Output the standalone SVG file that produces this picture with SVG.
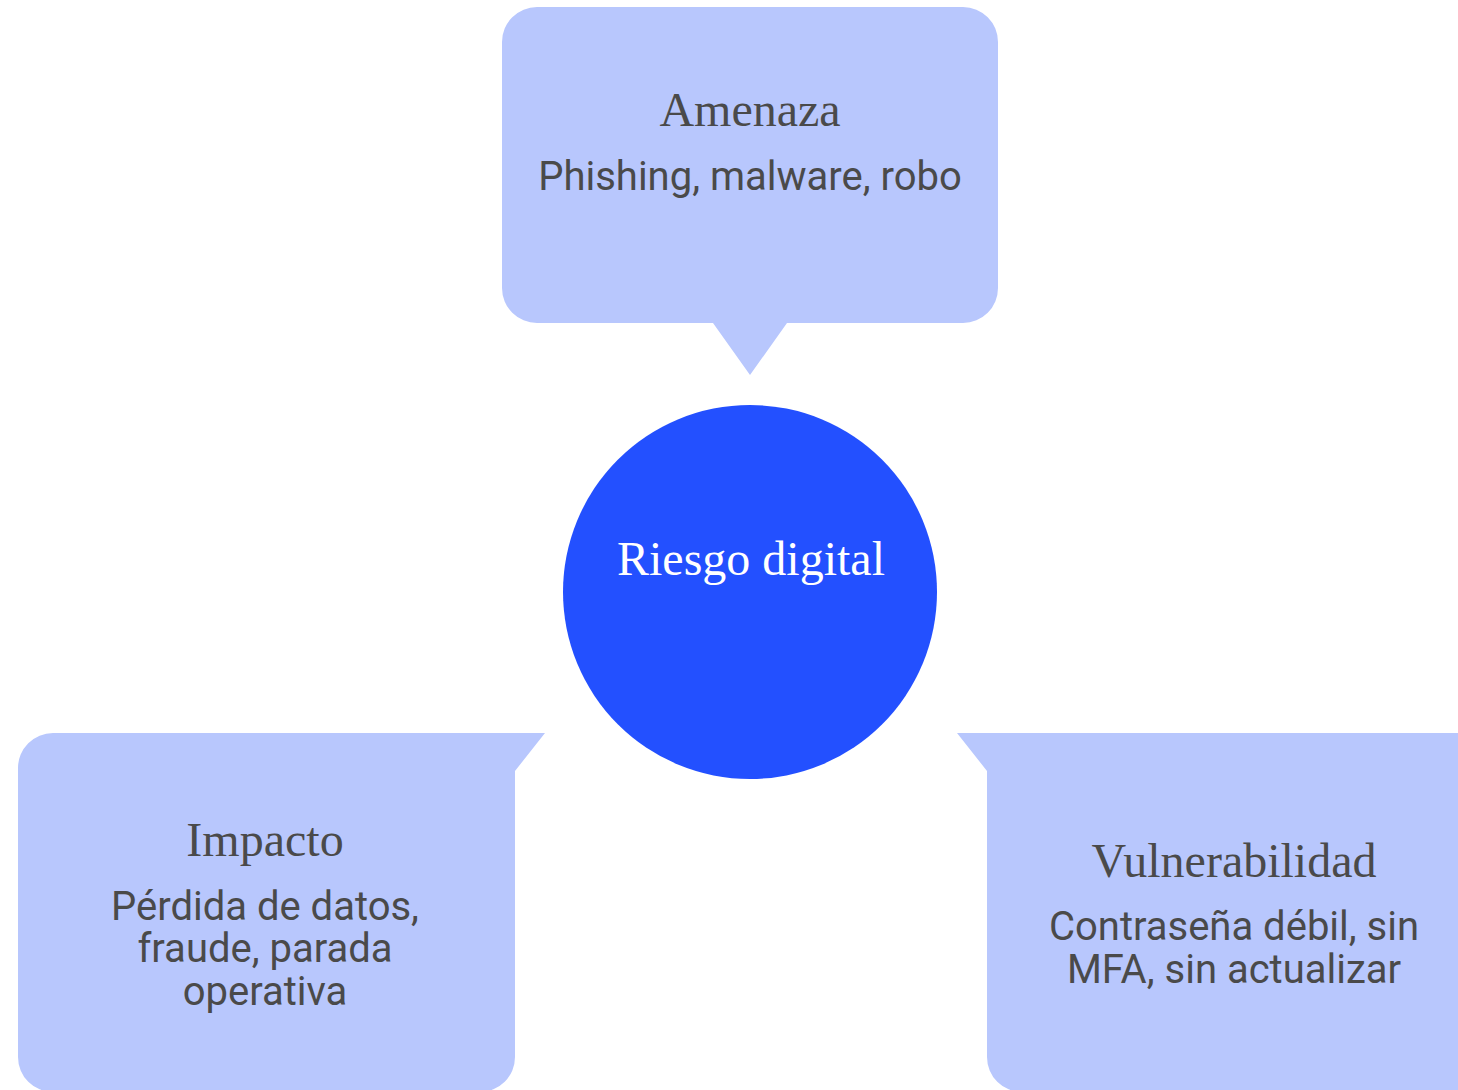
<svg xmlns="http://www.w3.org/2000/svg" width="1458" height="1090" viewBox="0 0 1458 1090">
<style>
.box{fill:#b8c7fd}
.title{font-family:"Liberation Serif",serif;font-size:48px;fill:#4a4a4a;text-anchor:middle}
.body{font-family:Roboto,"Liberation Sans",sans-serif;font-size:40px;fill:#4a4a4a;text-anchor:middle}
.center{font-family:"Liberation Serif",serif;font-size:48px;fill:#ffffff;text-anchor:middle}
</style>
<rect width="1458" height="1090" fill="#ffffff"/>
<g id="connectors"></g>
<g id="amenaza">
<path class="box" d="M537,7 H963 A35,35 0 0 1 998,42 V288 A35,35 0 0 1 963,323 H787 L750,375 L713,323 H537 A35,35 0 0 1 502,288 V42 A35,35 0 0 1 537,7 Z"/>
<text class="title" x="750" y="126">Amenaza</text>
<text class="body" x="750" y="190">Phishing, malware, robo</text>
</g>
<g id="riesgo">
<circle cx="750" cy="592" r="187" fill="#2350ff"/>
<text class="center" x="751" y="575">Riesgo digital</text>
</g>
<g id="impacto">
<path class="box" d="M53,733 H545 L515,771 V1057 A35,35 0 0 1 480,1092 H53 A35,35 0 0 1 18,1057 V768 A35,35 0 0 1 53,733 Z"/>
<text class="title" x="265" y="856">Impacto</text>
<text class="body" x="265" y="920">Pérdida de datos,</text>
<text class="body" x="265" y="962">fraude, parada</text>
<text class="body" x="265" y="1005">operativa</text>
</g>
<g id="vulnerabilidad">
<path class="box" d="M957,733 H1457 A35,35 0 0 1 1492,768 V1057 A35,35 0 0 1 1457,1092 H1022 A35,35 0 0 1 987,1057 V771 Z"/>
<text class="title" x="1234" y="877">Vulnerabilidad</text>
<text class="body" x="1234" y="940">Contraseña débil, sin</text>
<text class="body" x="1234" y="983">MFA, sin actualizar</text>
</g>
</svg>
